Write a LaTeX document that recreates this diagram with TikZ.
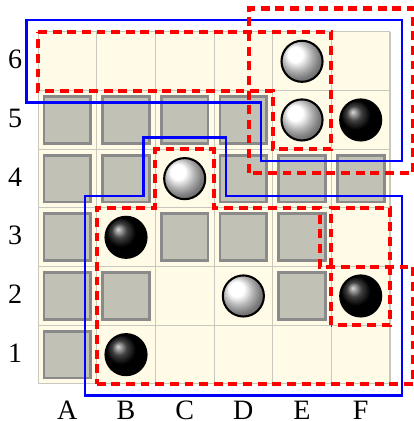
\documentclass[tikz,border=0pt]{standalone}
\usepackage{fontspec}
\setmainfont{Liberation Serif}
\definecolor{crema}{HTML}{FFFBE6}
\definecolor{griglia}{HTML}{C8C8BE}
\definecolor{casella}{HTML}{C1C1B5}
\definecolor{bordo}{HTML}{8A8A8A}
\tikzset{
  grigio/.style={draw=bordo, fill=casella, line width=1.3pt, minimum size=0.8cm, inner sep=0pt},
  pietra/.style={circle, draw=black, line width=1pt, minimum size=0.7cm, inner sep=0pt},
  bianca/.style={pietra, ball color=white},
  nera/.style={pietra, ball color=black},
  zonab/.style={draw=blue, line width=1.2pt},
  zonar/.style={draw=red, line width=2pt, dash pattern=on 4.3pt off 2.8pt},
  etich/.style={font=\fontsize{13.6}{16}\selectfont, inner sep=0pt}
}
\begin{document}
\begin{tikzpicture}
    \useasboundingbox (-0.648,-0.631) rectangle (6.392,6.545);
    % Scacchiera
    \fill[crema] (0,0) rectangle (6,6);
    \draw[griglia, line width=0.5pt] (0,0) grid (6,6);
    % Caselle grigie
    \foreach \x/\y in {0/4,1/4,2/4,3/4, 0/3,1/3,3/3,4/3,5/3, 0/2,2/2,3/2,4/2, 0/1,1/1,4/1, 0/0}
        \node[grigio] (g\x\y) at (\x+0.5,\y+0.5) {};
    % Pietre bianche e nere
    \node[bianca] (e6) at (4.5,5.5) {};
    \node[bianca] (e5) at (4.5,4.5) {};
    \node[bianca] (c4) at (2.5,3.5) {};
    \node[bianca] (d2) at (3.5,1.5) {};
    \node[nera] (f5) at (5.5,4.5) {};
    \node[nera] (b3) at (1.5,2.5) {};
    \node[nera] (f2) at (5.5,1.5) {};
    \node[nera] (b1) at (1.5,0.5) {};
    % Etichette
    \foreach \l [count=\i from 0] in {A,B,C,D,E,F}
        \node[etich] (col\l) at (\i+0.5,-0.45) {\l};
    \foreach \n in {1,...,6}
        \node[etich] (riga\n) at (-0.39,\n-0.47) {\n};
    % Zone blu
    \draw[zonab] (-0.2,6.2) -- (6.2,6.2) -- (6.2,3.8) -- (3.8,3.8) -- (3.8,4.8) -- (-0.2,4.8) -- cycle;
    \draw[zonab] (0.8,-0.2) -- (6.2,-0.2) -- (6.2,3.2) -- (3.2,3.2) -- (3.2,4.2) -- (1.8,4.2)
        -- (1.8,3.2) -- (0.8,3.2) -- cycle;
    % Zone rosse
    \draw[zonar] (0,6) -- (5,6) -- (5,4) -- (4,4) -- (4,5) -- (0,5) -- cycle;
    \draw[zonar] (3.6,3.6) rectangle (6.4,6.4);
    \draw[zonar] (1,0) -- (6.4,0) -- (6.4,2) -- (4.8,2) -- (4.8,3) -- (3,3) -- (3,4) -- (2,4)
        -- (2,3) -- (1,3) -- cycle;
    \draw[zonar] (5,1) rectangle (6,3);
\end{tikzpicture}
\end{document}
